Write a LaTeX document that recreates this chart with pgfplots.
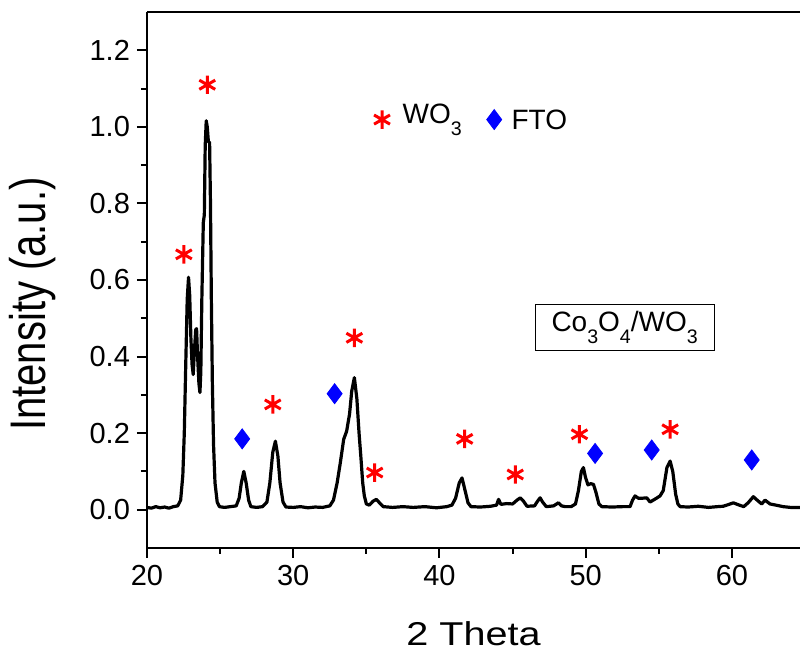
\documentclass[border=0pt]{standalone}
\usepackage{pgfplots}
\pgfplotsset{compat=1.18}
\usepackage{fontspec}
\setmainfont{Liberation Sans}
\newfontfamily\xlabfont[FakeStretch=1.2]{Liberation Sans}
\newfontfamily\ylabfont[FakeStretch=0.8]{Liberation Sans}
\newcommand{\sub}[1]{\raisebox{-0.42em}{\fontsize{0.7em}{0.7em}\selectfont #1}}

\begin{document}
\begin{tikzpicture}
\begin{axis}[
  name=ax, scale only axis, width=326.5pt, height=268pt,
  xmin=20, xmax=64.65, ymin=-0.1, ymax=1.3,
  axis y line*=left, y axis line style={-},
  xtick pos=left, tick align=outside,
  xtick={20,30,40,50,60}, minor x tick num=1,
  ytick={0,0.2,0.4,0.6,0.8,1.0,1.2}, minor y tick num=1,
  major tick length=5pt, minor tick length=3pt,
  every tick/.style={black, line width=1pt},
  axis line style={line width=1pt},
  yticklabel style={/pgf/number format/.cd, fixed, fixed zerofill, precision=1},
  /pgf/number format/assume math mode=true,
  tick label style={font=\fontsize{14.5}{17}\selectfont},
  xlabel={2 Theta}, ylabel={Intensity (a.u.)},
  xlabel style={at={(rel axis cs:0.5,-0.1595)}, anchor=center, inner sep=0pt,
    font=\xlabfont\fontsize{16.5}{20}\selectfont},
  ylabel style={at={(rel axis cs:-0.1746,0.455)}, anchor=center, inner sep=0pt,
    font=\ylabfont\fontsize{25}{30}\selectfont},
]
% XRD pattern
\addplot[black, line width=1.6pt, line join=round] coordinates {
(20.0,0.006)(20.3,0.004)(20.6,0.008)(20.9,0.005)(21.2,0.007)(21.5,0.004)(21.8,0.008)(22.1,0.01)
(22.3,0.025)(22.45,0.09)(22.55,0.2)(22.65,0.38)(22.75,0.55)(22.84,0.607)(22.92,0.56)(23.0,0.45)
(23.08,0.38)(23.16,0.353)(23.25,0.42)(23.33,0.47)(23.39,0.473)(23.46,0.40)(23.55,0.33)(23.62,0.306)
(23.68,0.36)(23.75,0.55)(23.85,0.75)(23.92,0.77)(23.98,0.95)(24.05,1.016)(24.12,1.0)(24.2,0.96)
(24.28,0.96)(24.34,0.80)(24.4,0.55)(24.47,0.33)(24.55,0.17)(24.65,0.07)(24.8,0.02)(24.95,0.008)
(25.3,0.006)(25.7,0.008)(26.1,0.01)(26.3,0.03)(26.45,0.07)(26.62,0.10)(26.78,0.07)(26.95,0.025)
(27.1,0.008)(27.5,0.006)(27.9,0.008)(28.2,0.02)(28.4,0.07)(28.6,0.15)(28.78,0.179)(28.95,0.14)
(29.1,0.07)(29.3,0.02)(29.5,0.007)(30.0,0.006)(30.5,0.008)(31.0,0.005)(31.5,0.007)(32.0,0.006)
(32.5,0.01)(32.75,0.025)(33.0,0.07)(33.22,0.123)(33.45,0.184)(33.65,0.205)(33.85,0.25)(34.0,0.31)
(34.18,0.345)(34.35,0.29)(34.5,0.2)(34.62,0.14)(34.75,0.07)(34.86,0.036)(35.0,0.015)(35.2,0.012)
(35.45,0.022)(35.68,0.027)(35.9,0.018)(36.15,0.008)(36.8,0.006)(37.5,0.008)(38.2,0.006)(39.0,0.008)
(39.8,0.005)(40.5,0.008)(40.85,0.012)(41.1,0.03)(41.35,0.07)(41.54,0.083)(41.75,0.05)(41.95,0.018)
(42.15,0.008)(42.8,0.007)(43.5,0.009)(43.9,0.012)(44.04,0.027)(44.2,0.014)(44.6,0.016)(45.0,0.015)
(45.3,0.025)(45.52,0.031)(45.75,0.022)(45.98,0.009)(46.5,0.01)(46.7,0.022)(46.88,0.031)(47.05,0.02)
(47.3,0.008)(47.8,0.01)(48.13,0.018)(48.35,0.01)(48.6,0.008)(49.0,0.008)(49.3,0.015)(49.5,0.05)
(49.7,0.1)(49.84,0.11)(49.98,0.085)(50.15,0.065)(50.35,0.068)(50.53,0.066)(50.7,0.045)(50.9,0.015)
(51.1,0.008)(51.8,0.007)(52.5,0.008)(53.03,0.008)(53.2,0.025)(53.37,0.036)(53.6,0.03)(53.85,0.03)
(54.17,0.031)(54.4,0.02)(54.75,0.028)(55.08,0.036)(55.3,0.05)(55.55,0.11)(55.77,0.127)(55.95,0.1)
(56.15,0.04)(56.3,0.015)(56.45,0.008)(57.0,0.007)(57.7,0.009)(58.4,0.006)(59.0,0.008)(59.4,0.009)
(59.8,0.014)(60.09,0.018)(60.5,0.012)(60.8,0.008)(61.1,0.018)(61.46,0.034)(61.75,0.024)(62.03,0.015)
(62.26,0.025)(62.6,0.015)(63.0,0.012)(63.5,0.008)(64.0,0.006)(64.65,0.006)};
% WO3 reflections (and legend symbol)
\addplot[only marks, mark=asterisk, mark size=4.6pt, red, line width=1.5pt] coordinates {
(22.52,0.667)(24.12,1.11)(28.6,0.275)(34.18,0.449)(35.57,0.097)(41.72,0.185)
(45.18,0.092)(49.57,0.197)(55.77,0.21)(36.07,1.019)};
% FTO reflections (and legend symbol)
\addplot[only marks, mark=diamond*, mark size=5pt, blue, draw=blue] coordinates {
(26.51,0.185)(32.83,0.303)(50.64,0.147)(54.51,0.156)(61.35,0.13)(43.74,1.019)};
\node[anchor=west, font=\fontsize{14}{16}\selectfont, inner sep=0pt] at (axis cs:37.45,1.019) {WO\sub{3}};
\node[anchor=west, font=\fontsize{14}{16}\selectfont, inner sep=0pt] at (axis cs:44.9,1.019) {FTO};
\node[draw=black, line width=0.6pt, minimum width=89.5pt, minimum height=23pt, inner sep=0pt,
  font=\fontsize{14}{16}\selectfont] at (axis cs:52.66,0.476) {Co\sub{3}O\sub{4}/WO\sub{3}};
\end{axis}
\pgfresetboundingbox
\path ([shift={(-73.5pt,-52.5pt)}]ax.south west) rectangle ([shift={(0pt,6pt)}]ax.north east);
\end{tikzpicture}
\end{document}
